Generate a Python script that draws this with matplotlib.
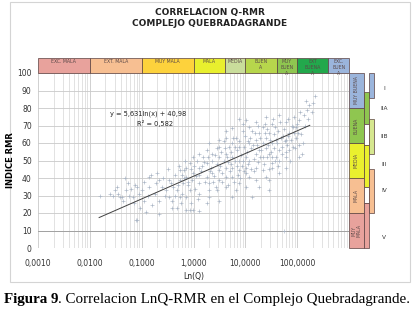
import matplotlib
matplotlib.use("Agg")
import matplotlib.pyplot as plt
from matplotlib.patches import Rectangle
from matplotlib.ticker import FixedLocator, NullFormatter, LogLocator
from matplotlib.transforms import blended_transform_factory

# scatter values (Q, RMR)
q_vals = [0.0155, 0.024, 0.033, 0.047, 0.041, 0.073, 0.083, 0.091, 0.038, 0.043, 0.05, 0.068,
          0.08, 0.10, 0.09, 0.079, 0.123, 0.22, 0.39, 0.72, 0.97, 1.3, 1.2, 3.1, 56, 0.58, 0.47,
          0.16, 0.14, 0.14, 0.2, 0.22, 0.22, 0.25, 0.3, 0.34, 0.34, 0.4, 0.43, 0.47, 0.54, 0.54,
          0.62, 0.67, 0.73, 0.73, 0.73, 0.84, 0.84, 0.84, 0.97, 0.97, 1.15, 1.3, 1.3, 1.3, 1.3,
          1.5, 1.8, 1.8, 1.8, 1.8, 2.0, 2.0, 2.0, 2.0, 2.3, 2.3, 2.3, 2.8, 2.8, 3.1, 3.1, 3.1,
          3.1, 3.1, 4.3, 4.3, 4.3, 4.3, 4.3, 4.3, 4.9, 5.6, 5.6, 5.6, 5.6, 5.6, 5.6, 6.6, 6.6,
          7.7, 7.7, 7.7, 7.7, 7.7, 8.9, 8.9, 10.5, 10.5, 10.5, 10.5, 10.5, 12, 12, 12, 12, 13.7,
          13.7, 16, 16, 16, 16, 16, 18.5, 18.5, 18.5, 21.5, 21.5, 21.5, 25, 25, 25, 25, 28, 28,
          28, 28, 33, 33, 33, 33, 39, 39, 45, 45, 45, 45, 52, 62, 62, 62, 62, 70, 70, 82, 82,
          95, 95, 110, 110, 110, 125, 135, 155, 170, 220,
          1.0, 1.1, 1.4, 1.6, 1.7, 2.2, 2.5, 2.6, 2.9, 3.4, 3.6, 3.8, 4.0, 4.6, 5.0, 5.2, 5.9,
          6.2, 6.9, 7.1, 7.4, 8.2, 8.6, 9.3, 9.8, 11, 11.5, 12.5, 13, 14.5, 15, 17, 17.5, 19,
          20, 22, 23, 24, 26, 27, 30, 31, 35, 36, 37, 41, 43, 48, 50, 55, 58, 65, 68, 75, 78,
          88, 100, 120, 140, 160, 190, 200,
          0.6, 0.65, 0.8, 0.9, 1.05, 1.25, 1.45, 1.9, 2.1, 2.4, 2.7, 3.3, 3.5, 3.9, 4.5, 4.7,
          5.4, 6.0, 6.4, 7.0, 8.0, 9.0, 9.5, 11.2, 12.8, 14, 15.5, 17.8, 19.5, 23.5, 26.5, 29,
          32, 34, 38, 42, 47, 53, 60, 66, 72, 85, 92, 105, 115, 130, 145,
          0.11, 0.13, 0.15, 0.18, 0.19, 0.26, 0.28, 0.32, 0.36, 0.38, 0.44, 0.5, 0.52, 0.56,
          0.6, 0.7, 0.78, 0.88, 0.95, 0.057, 0.062, 0.07, 0.03, 0.028, 0.035, 0.054, 0.11]
rmr_vals = [30, 31, 35, 40, 29, 36, 16, 23, 29, 27, 33, 29,
            35, 33, 31, 16, 20.7, 19.5, 23, 21.7, 21.7, 21, 28, 27, 10, 26, 23,
            24.6, 35, 40.6, 43, 39, 27, 35, 33, 29, 39, 35, 41.7, 33, 44.6, 39,
            37, 44.6, 29, 40.6, 46, 48.6, 33, 21.7, 43, 52, 50, 54, 37, 31, 46,
            52, 56, 40.6, 25.7, 48.6, 60, 29, 33, 37, 43, 50, 54, 57, 33, 62, 44.6, 52,
            58, 39, 63, 46, 35, 54, 67, 40.6, 58, 68.6, 60, 46, 29, 52, 40.6, 33, 63,
            74, 58, 44.6, 37, 50, 67, 71, 73, 43, 35, 52, 46, 69, 60, 40.6, 50, 29,
            67, 72, 62, 39, 46, 54, 66, 35, 56, 44.6, 52, 69, 75, 57, 40.6, 63, 66, 39,
            33, 54, 71, 48.6, 60, 46, 62, 52, 76, 50, 56, 43, 58, 72, 62, 52, 46, 66, 56, 58, 69,
            69, 63, 73, 59, 52, 54, 76, 79, 81.7, 87,
            47, 41, 44, 49, 38, 46, 41, 53, 48, 55, 43, 50, 57, 49, 44, 55, 63,
            50, 56, 42, 61, 53, 47, 58, 64, 55, 48, 63, 57, 51, 44, 59, 49, 63,
            56, 60, 48, 66, 52, 59, 62, 55, 57, 65, 50, 60, 67, 63, 54, 68, 61, 59, 64, 62, 70,
            66, 71, 65, 70, 74, 78, 83,
            31, 40, 36, 45, 34, 42, 47, 52, 44, 38, 35, 47, 38, 61, 52, 36,
            48, 38, 58, 47, 40, 50, 44, 61, 45, 59, 66, 70, 52, 71, 68, 45,
            52, 74, 69, 47, 72, 64, 55, 74, 50, 75, 57, 66, 78, 60, 84,
            38, 30, 42, 31, 37, 40, 30, 45, 37, 27, 30, 36, 47, 29,
            42, 50, 38, 26, 39, 30, 34, 26, 33, 30, 31, 37, 27]

# trend line (y = 5,631 ln(x) + 40,98) endpoints
trend_q = [0.0151, 175]
trend_rmr = [17.4, 70.1]

x_ticks = [0.001, 0.01, 0.1, 1, 10, 100, 1000]
x_ticklabels = ["0,0010", "0,0100", "0,1000", "1,0000", "10,0000", "100,0000", ""]
y_ticks = [0, 10, 20, 30, 40, 50, 60, 70, 80, 90, 100]

# Q classes (top band)
q_class_edges = [0.001, 0.01, 0.1, 1, 4, 10, 40, 100, 400, 1000]
q_class_names = ["EXC. MALA", "EXT. MALA", "MUY MALA", "MALA", "MEDIA", "BUEN\nA",
                 "MUY\nBUEN\nA", "EXT\nBUENA\nA", "EXC.\nBUEN\nA"]
q_class_colors = ["#e8a29c", "#f7bf92", "#fdd23c", "#e8ef2e", "#c9dd9b", "#b7d64c",
                  "#8fc650", "#22a84c", "#9bb5dc"]

# RMR classes (right band)
rmr_class_edges = [0, 20, 40, 60, 80, 100]
rmr_class_names = ["MUY\nMALA", "MALA", "MEDIA", "BUENA", "MUY BUENA"]
rmr_class_colors = ["#e8a29c", "#f7bf92", "#eaf02e", "#8fc650", "#9bb5dc"]

# sub-class bars
sub_bottoms = [86, 71, 59, 35, 54, 26, 20, 0]
sub_tops = [100, 89, 71, 59, 74, 35, 45, 26]
sub_colors = ["#9bb5dc", "#8fc650", "#ffffff", "#eaf02e", "#d6e78f", "#ffffff", "#f7bf92", "#e8a29c"]
sub_cols = [1, 0, 0, 0, 1, 0, 1, 0]
sub_labels = ["I", "IIA", "IIB", "III", "IV", "V"]
sub_label_y = [91, 80, 64, 48, 33, 6]

W, H = 417, 313
fig = plt.figure(figsize=(W / 100, H / 100), dpi=100)

# chart frame
fig.patches.append(Rectangle((10 / W, 1 - 282 / H), 400 / W, 280 / H, transform=fig.transFigure,
                             facecolor="none", edgecolor="#d4d4d4", lw=0.8, zorder=-1))

ax = fig.add_axes([38 / W, 1 - 248 / H, (349 - 38) / W, (248 - 73) / H])
ax.set_xscale("log")
ax.set_xlim(0.001, 1000)
ax.set_ylim(0, 100)
ax.set_facecolor("none")
for s in ax.spines.values():
    s.set_visible(False)

ax.xaxis.set_major_locator(FixedLocator(x_ticks))
ax.set_xticklabels(x_ticklabels)
ax.xaxis.set_minor_locator(LogLocator(base=10, subs=range(2, 10)))
ax.xaxis.set_minor_formatter(NullFormatter())
ax.set_yticks(y_ticks)
ax.tick_params(which="both", length=0, labelsize=5.5, labelcolor="#333333")
ax.tick_params(axis="x", pad=8)
ax.tick_params(axis="y", pad=4.5)
ax.grid(which="major", axis="both", color="#c9c9c9", lw=0.6)
ax.grid(which="minor", axis="x", color="#d6d6d6", lw=0.5)
ax.axhline(10, color="#9a9a9a", lw=0.6)
ax.axhline(0, color="#b0b0b0", lw=0.6)

ax.scatter(q_vals, rmr_vals, marker="+", s=10, lw=0.45, color="#a9b5c5", zorder=3)
ax.plot(trend_q, trend_rmr, color="#404040", lw=0.7, zorder=4)
ax.text(0.0245, 75.5, "y = 5,631ln(x) + 40,98", fontsize=4.8, color="#222222", zorder=6)
ax.text(0.082, 69.6, "R² = 0,582", fontsize=4.8, color="#222222", zorder=6)

ax.set_xlabel("Ln(Q)", fontsize=5.5, color="#222222", labelpad=2.5)
ax.set_ylabel("INDICE RMR", fontsize=6, fontweight="bold")
ax.yaxis.set_label_coords(-0.074, 0.5)

# top band of Q classes
tb = blended_transform_factory(ax.transData, ax.transAxes)
band_h = 15 / 175
for i, name in enumerate(q_class_names):
    x0, x1 = q_class_edges[i], q_class_edges[i + 1]
    ax.add_patch(Rectangle((x0, 1.0), x1 - x0, band_h, transform=tb, facecolor=q_class_colors[i],
                           edgecolor="#5a4040", lw=0.5, clip_on=False, zorder=5))
    xm = (x0 * x1) ** 0.5
    ax.text(xm, 1.0 + band_h * 0.92, name, transform=tb, fontsize=3.3, color="#5a4848",
            ha="center", va="top", linespacing=1.25, clip_on=False, zorder=6)

# right band of RMR classes
rb = blended_transform_factory(fig.transFigure, ax.transData)
for i, name in enumerate(rmr_class_names):
    y0, y1 = rmr_class_edges[i], rmr_class_edges[i + 1]
    ax.add_patch(Rectangle((349 / W, y0), 15 / W, y1 - y0, transform=rb,
                           facecolor=rmr_class_colors[i], edgecolor="#5a4040", lw=0.5,
                           clip_on=False, zorder=5))
    ax.text(356.5 / W, (y0 + y1) / 2, name, transform=rb, rotation=90, fontsize=3.3,
            color="#5a4848", ha="center", va="center", linespacing=1.1, clip_on=False, zorder=6)

for b, t, c, col in zip(sub_bottoms, sub_tops, sub_colors, sub_cols):
    x0 = 364 if col == 0 else 369
    ax.add_patch(Rectangle((x0 / W, b), 5 / W, t - b, transform=rb, facecolor=c,
                           edgecolor="#5a4040", lw=0.5, clip_on=False, zorder=5))

for lab, yv in zip(sub_labels, sub_label_y):
    ax.text(384 / W, yv, lab, transform=rb, fontsize=4.2, color="#333333",
            ha="center", va="center", clip_on=False)

fig.text(210 / W, 1 - 12 / H, "CORRELACION Q-RMR", fontsize=6.5, fontweight="bold",
         ha="center", va="center", color="#222222")
fig.text(210 / W, 1 - 24 / H, "COMPLEJO QUEBRADAGRANDE", fontsize=6.5, fontweight="bold",
         ha="center", va="center", color="#222222")

# caption: bold part then normal part right after it
t1 = fig.text(4 / W, 1 - 303 / H, "Figura 9", family="Liberation Serif", fontweight="bold",
              fontsize=10.8, va="baseline")
ax.annotate(". Correlacion LnQ-RMR en el Complejo Quebradagrande.", xy=(1, 0), xycoords=t1,
            va="bottom", ha="left", family="Liberation Serif", fontsize=10.8,
            annotation_clip=False)

fig.savefig("out.png", dpi=100)
